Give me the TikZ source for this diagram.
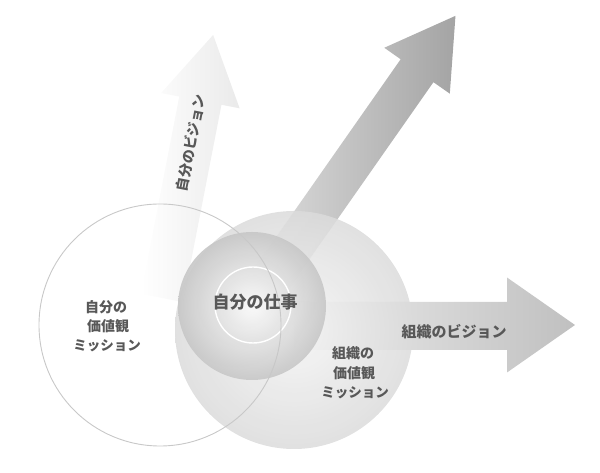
\documentclass[tikz,border=0pt]{standalone}
\usepackage{fontspec}
\newfontfamily\jp{Noto Sans CJK JP}
\usetikzlibrary{positioning}
\definecolor{Ink}{HTML}{585858}
\definecolor{RimGray}{HTML}{C8C8C8}
\definecolor{TipDark}{HTML}{A4A4A4}
\definecolor{TipMid}{HTML}{C0C0C0}
\definecolor{TipLight}{HTML}{EAEAEA}
\tikzset{
  jptext/.style={font=\jp\bfseries\fontsize{#1}{#1}\selectfont,text=Ink,inner sep=0pt},
  jptext/.default=14
}

\begin{document}
\begin{tikzpicture}[x=1pt,y=1pt]
\useasboundingbox (0,0) rectangle (600,473);
% arrow: own vision (drawn first, fades out into the left circle)
\begin{scope}[shift={(162,175)},rotate=79]
\shade[left color=white,right color=TipLight] (0,-21.5) -- (201,-21.5) -- (201,-40) -- (268,0) -- (201,40) -- (201,21.5) -- (0,21.5) -- cycle;
\end{scope}
% arrow: diagonal from own work
\begin{scope}[shift={(253,168)},rotate=55]
\shade[left color=gray!22,middle color=gray!38,right color=TipDark] (0,-20) -- (286,-20) -- (286,-40) -- (353,0) -- (286,40) -- (286,20) -- (0,20) -- cycle;
\end{scope}
% arrow: organisation vision
\shade[left color=gray!14,right color=TipMid] (294,123) -- (507,123) -- (507,100.5) -- (575,148) -- (507,195.5) -- (507,171) -- (294,171) -- cycle;
% circles
\shade[inner color=gray!8,outer color=gray!28,opacity=0.86] (294,143) circle (119);
\shade[inner color=gray!3,outer color=gray!44,opacity=0.9] (252,167) circle (74);
\draw[white,line width=1.4pt] (253,168) circle (38);
\draw[RimGray,line width=0.9pt] (160,148) circle (121);
% labels
\node[jptext=17] (work) at (255,171) {自分の仕事};
\node[jptext=14] (selfA) at (106,166) {自分の};
\node[jptext=14] (selfB) at (108,147) {価値観};
\node[jptext=13.5] (selfC) at (107,127) {ミッション};
\node[jptext=14] (orgA) at (353,120) {組織の};
\node[jptext=14] (orgB) at (354,100) {価値観};
\node[jptext=13.5] (orgC) at (355,80) {ミッション};
\node[jptext=15] (orgvision) at (454,141) {組織のビジョン};
\node[jptext=14,rotate=79] (selfvision) at (191,330) {自分のビジョン};
\end{tikzpicture}
\end{document}
